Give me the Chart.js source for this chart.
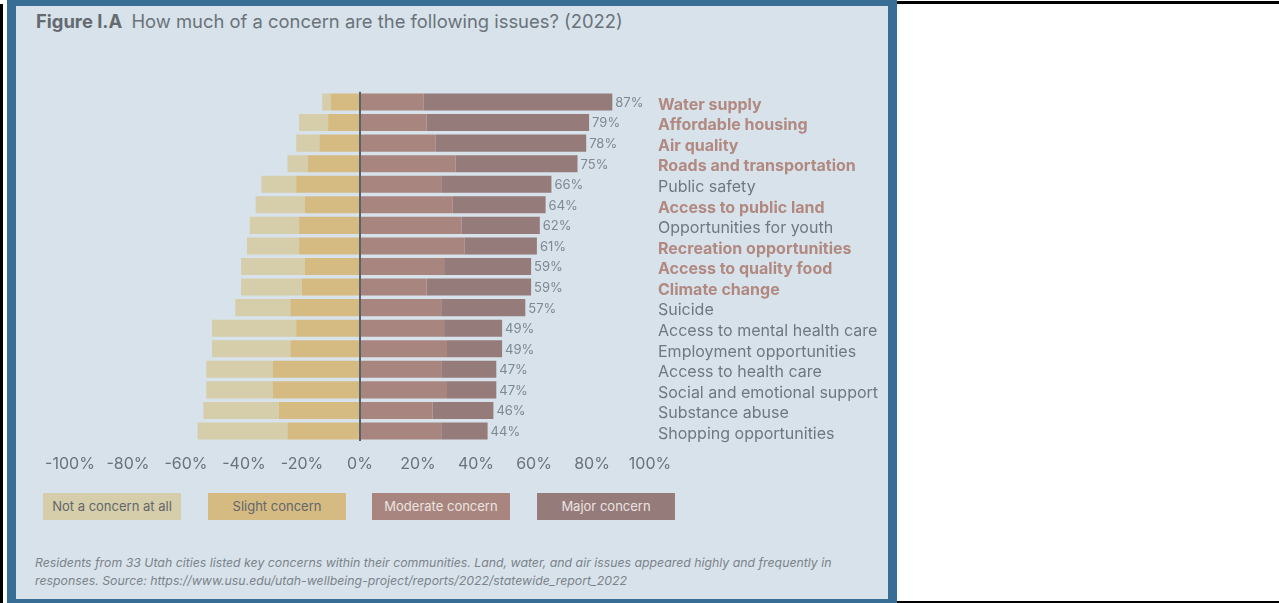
<!DOCTYPE html>
<html>
<head>
<meta charset="utf-8">
<script src="https://cdn.jsdelivr.net/npm/chart.js"></script>
<style>
  body { margin: 0; width: 1279px; height: 603px; overflow: hidden; background: #fff; font-family: Inter, "Noto Sans", sans-serif; }
  .line { position: absolute; background: #000; }
  #panel { position: absolute; left: 7px; top: 0; width: 890px; height: 603px; box-sizing: border-box;
    border-style: solid; border-color: #386d96; border-width: 6px 9px 4px 9px; background: #d7e2eb; }
  #title { position: absolute; left: 20px; top: 4px; font-size: 18.4px; color: #6b7278; white-space: nowrap; }
  #title b { color: #646a70; font-weight: 700; margin-right: 4px; }
  #chartbox { position: absolute; left: 0; top: 54px; }
  .leg { position: absolute; top: 487px; width: 138px; height: 27px; line-height: 27px; text-align: center; font-size: 13px; }
  #note { position: absolute; left: 19px; top: 548px; font-size: 12.3px; font-style: italic; color: #7c838a; line-height: 18px; white-space: nowrap; }
</style>
</head>
<body>
<div class="line" style="left:0;top:4px;width:2.5px;height:599px"></div>
<div class="line" style="left:897px;top:1px;width:382px;height:3px"></div>
<div class="line" style="left:897px;top:601px;width:382px;height:2px"></div>
<div id="panel">
  <div id="title"><b>Figure I.A</b> How much of a concern are the following issues? (2022)</div>
  <div id="chartbox"><canvas id="grafica" width="872" height="430"></canvas></div>
  <div id="legend"></div>
  <div id="note">Residents from 33 Utah cities listed key concerns within their communities. Land, water, and air issues appeared highly and frequently in<br>responses. Source: https://www.usu.edu/utah-wellbeing-project/reports/2022/statewide_report_2022</div>
</div>
<script>
// issues, top to bottom
let categorias = ["Water supply", "Affordable housing", "Air quality", "Roads and transportation", "Public safety",
  "Access to public land", "Opportunities for youth", "Recreation opportunities", "Access to quality food",
  "Climate change", "Suicide", "Access to mental health care", "Employment opportunities",
  "Access to health care", "Social and emotional support", "Substance abuse", "Shopping opportunities"];
// which labels are in bold
let destacados = [true, true, true, true, false, true, false, true, true, true, false, false, false, false, false, false, false];

// percentages
let noConcern = [3, 10, 8, 7, 12, 17, 17, 18, 22, 21, 19, 29, 27, 23, 23, 26, 31];
let slight = [10, 11, 14, 18, 22, 19, 21, 21, 19, 20, 24, 22, 24, 30, 30, 28, 25];
let moderate = [22, 23, 26, 33, 28, 32, 35, 36, 29, 23, 28, 29, 30, 28, 30, 25, 28];
let major = [65, 56, 52, 42, 38, 32, 27, 25, 30, 36, 29, 20, 19, 19, 17, 21, 16];
let totales = [87, 79, 78, 75, 66, 64, 62, 61, 59, 59, 57, 49, 49, 47, 47, 46, 44];

let xTicks = [-100, -80, -60, -40, -20, 0, 20, 40, 60, 80, 100];

let nombres = ["Not a concern at all", "Slight concern", "Moderate concern", "Major concern"];
let colores = ["#d6cdaa", "#d5bb82", "#a8867f", "#957b7a"];
let textoLeyenda = ["#62676b", "#62676b", "#ece3e1", "#ece3e1"];
let legendX = [27, 192, 356, 521];

// legend boxes
let legend = document.getElementById("legend");
nombres.forEach((n, i) => {
  legend.innerHTML += `<div class="leg" style="left:${legendX[i]}px;background:${colores[i]};color:${textoLeyenda[i]}">${n}</div>`;
});

// percent labels at the end of each bar
const etiquetas = {
  id: "etiquetas",
  afterDatasetsDraw(chart) {
    let ctx = chart.ctx;
    let x = chart.scales.x;
    let y = chart.scales.y;
    ctx.save();
    ctx.font = "13px Inter";
    ctx.fillStyle = "#7f8891";
    ctx.textBaseline = "middle";
    ctx.textAlign = "left";
    totales.forEach((t, i) => {
      ctx.fillText(t + "%", x.getPixelForValue(moderate[i] + major[i]) + 3, y.getPixelForValue(i) + 1);
    });
    ctx.restore();
  }
};

var chart = new Chart(document.getElementById("grafica"), {
  type: "bar",
  data: {
    labels: categorias,
    datasets: [
      { label: nombres[1], data: slight.map((v) => -v), backgroundColor: colores[1] },
      { label: nombres[0], data: noConcern.map((v) => -v), backgroundColor: colores[0] },
      { label: nombres[2], data: moderate, backgroundColor: colores[2] },
      { label: nombres[3], data: major, backgroundColor: colores[3] },
    ],
  },
  options: {
    indexAxis: "y",
    responsive: false,
    animation: false,
    layout: { padding: { top: 31.7, left: 54, right: 0, bottom: 8.7 } },
    datasets: { bar: { categoryPercentage: 1, barPercentage: 0.83 } },
    plugins: { legend: { display: false }, tooltip: { enabled: false } },
    scales: {
      x: {
        stacked: true,
        min: -100,
        max: 100,
        afterBuildTicks: (scale) => { scale.ticks = xTicks.map((v) => ({ value: v })); },
        afterFit: (scale) => { scale.height = 40; },
        border: { display: false },
        grid: {
          drawTicks: false,
          lineWidth: 2,
          color: (c) => (c.tick && c.tick.value === 0 ? "#5b6166" : "rgba(0,0,0,0)"),
        },
        ticks: { padding: 13, color: "#6b7278", font: { family: "Inter", size: 16 }, callback: (v) => v + "%" },
      },
      y: {
        stacked: true,
        position: "right",
        afterFit: (scale) => { scale.width = 238; },
        border: { display: false },
        grid: { display: false, drawTicks: false },
        ticks: {
          autoSkip: false,
          padding: 8,
          labelOffset: 3,
          color: (c) => (destacados[c.index] ? "#b28980" : "#6f7880"),
          font: (c) => ({ family: "Inter", size: 16, weight: destacados[c.index] ? "bold" : "normal" }),
        },
      },
    },
  },
  plugins: [etiquetas],
});
</script>
</body>
</html>
